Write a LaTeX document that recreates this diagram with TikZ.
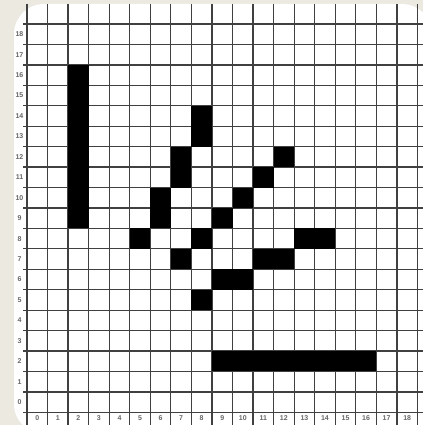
\documentclass[tikz,border=0pt]{standalone}
\usepackage{fontspec}
\setmainfont{Liberation Sans}
\definecolor{bgtan}{HTML}{ECE9E1}
\tikzset{
  gridline/.style={line width=1.25pt, draw=black!75},
  cellfill/.style={fill=black},
  axislabel/.style={font=\fontsize{7}{8}\selectfont\bfseries, text=black!60, inner sep=0pt}
}
\begin{document}
\begin{tikzpicture}[x=1pt,y=-1pt]
\useasboundingbox (0,0) rectangle (423,425);
\fill[bgtan] (0,0) rectangle (423,425);
\begin{scope}
\clip (0,0) rectangle (423,425);
\fill[white, rounded corners=30pt] (14,4) rectangle (432,434);
% grid lines
\foreach \c in {0,...,19}
  \draw[gridline] ({27+\c*20.55},4) -- ({27+\c*20.55},425);
\foreach \r in {0,...,19}
  \draw[gridline] (23,{24+\r*20.44}) -- (423,{24+\r*20.44});
% black cells
\foreach \c/\r in {2/9,2/10,2/11,2/12,2/13,2/14,2/15,2/16,
                   8/13,8/14,7/11,7/12,6/9,6/10,5/8,
                   7/7,8/8,9/9,10/10,11/11,12/12,
                   13/8,14/8,11/7,12/7,9/6,10/6,8/5,
                   9/2,10/2,11/2,12/2,13/2,14/2,15/2,16/2}
  \fill[cellfill] ({27+\c*20.55},{24+(18-\r)*20.44}) rectangle ++(20.55,20.44);
% row labels
\foreach \r in {0,...,18}
  \node[axislabel] (row\r) at (19.5,{24+(18-\r+0.5)*20.44}) {\r};
% column labels
\foreach \c in {0,...,18}
  \node[axislabel] (col\c) at ({27+(\c+0.5)*20.55},418.5) {\c};
\end{scope}
\end{tikzpicture}
\end{document}
